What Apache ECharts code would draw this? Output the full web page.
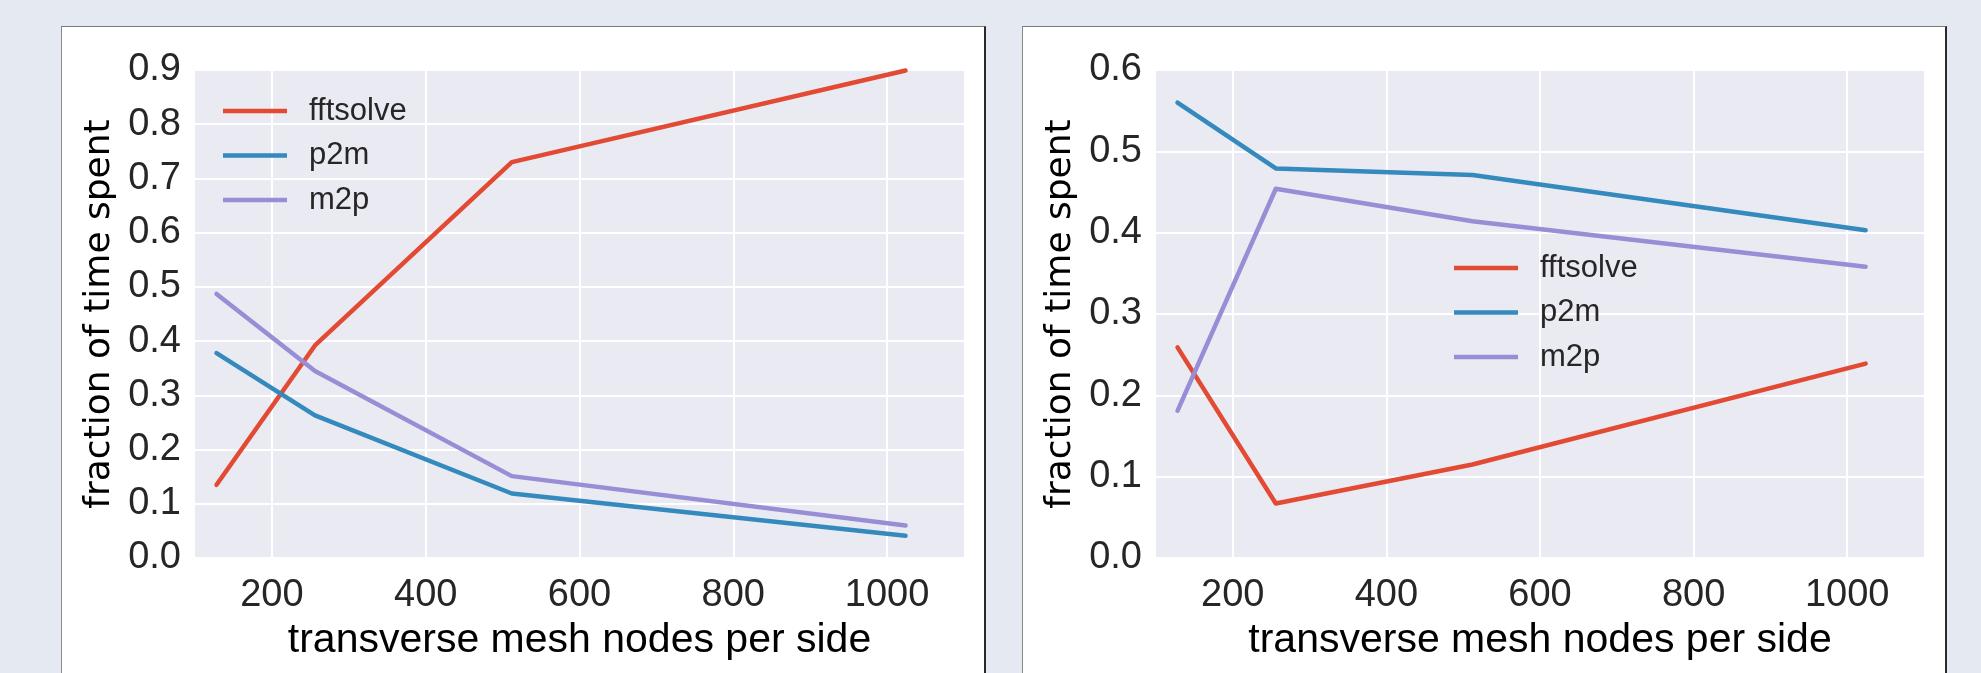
<!DOCTYPE html>
<html>
<head>
<meta charset="utf-8">
<title>fraction of time spent</title>
<script src="https://cdn.jsdelivr.net/npm/echarts@6/dist/echarts.min.js"></script>
<style>
  html, body { margin: 0; padding: 0; width: 1981px; height: 673px; overflow: hidden; background: #e5eaf2; }
  .panel { position: absolute; top: 26px; height: 700px; background: #ffffff;
           border-top: 1px solid #7a7a7a; border-left: 1px solid #8a8a8a; border-right: 2px solid #2a2a2a; box-sizing: border-box; }
  #p1 { left: 61px; width: 925px; }
  #p2 { left: 1022px; width: 925px; }
  #chart { position: absolute; left: 0; top: 0; width: 1981px; height: 673px; }
</style>
</head>
<body>
<div class="panel" id="p1"></div>
<div class="panel" id="p2"></div>
<div id="chart"></div>
<script>
// transverse mesh nodes per side
const nodes = [128, 256, 512, 1024];
const xTicks = [200, 400, 600, 800, 1000];

// left panel: fraction of time spent per stage
const leftFftsolve = [0.135, 0.392, 0.730, 0.899];
const leftP2m      = [0.378, 0.263, 0.119, 0.041];
const leftM2p      = [0.487, 0.345, 0.151, 0.060];

// right panel: fraction of time spent per stage
const rightFftsolve = [0.259, 0.067, 0.115, 0.239];
const rightP2m      = [0.560, 0.479, 0.471, 0.403];
const rightM2p      = [0.181, 0.454, 0.414, 0.358];

const seriesNames = ['fftsolve', 'p2m', 'm2p'];
const colors = ['#E24A33', '#348ABD', '#988ED5'];

const FONT = "'Liberation Sans', Arial, sans-serif";
const WIDE = "'DejaVu Sans', sans-serif";

function pairs(ys) { return nodes.map((x, i) => [x, ys[i]]); }

function xAxis(gridIndex) {
  return {
    type: 'value', gridIndex, min: 100, max: 1100,
    axisLine: { show: false },
    axisTick: { show: false, customValues: xTicks },
    axisLabel: { customValues: xTicks, color: '#262626', fontSize: 38, fontFamily: FONT, margin: 19,
                 formatter: v => String(v) },
    splitLine: { show: true, lineStyle: { color: '#ffffff', width: 2 } },
    name: 'transverse mesh nodes per side', nameLocation: 'middle', nameGap: 61,
    nameTextStyle: { color: '#000000', fontSize: 41, fontFamily: FONT }
  };
}

function yAxis(gridIndex, max) {
  return {
    type: 'value', gridIndex, min: 0, max, interval: 0.1,
    axisLine: { show: false }, axisTick: { show: false },
    axisLabel: { color: '#262626', fontSize: 38, fontFamily: FONT, margin: 14,
                 formatter: v => v.toFixed(1) },
    splitLine: { show: true, lineStyle: { color: '#ffffff', width: 2 } },
    name: 'fraction of time spent', nameLocation: 'middle', nameGap: 77,
    nameTextStyle: { color: '#000000', fontSize: 36, fontFamily: WIDE }
  };
}

function lineSeries(name, ys, idx, color) {
  return {
    type: 'line', name, data: pairs(ys), xAxisIndex: idx, yAxisIndex: idx,
    showSymbol: false, symbol: 'none', animation: false,
    lineStyle: { color, width: 4.5, cap: 'round', join: 'round' },
    itemStyle: { color }
  };
}

function legend(left, top) {
  return {
    orient: 'vertical', left, top, itemWidth: 64, itemHeight: 4.5, itemGap: 13.5,
    icon: 'rect',
    data: seriesNames,
    textStyle: { color: '#262626', fontSize: 31, fontFamily: FONT, padding: [0, 0, 0, 17] },
    selectedMode: false
  };
}

const chart = echarts.init(document.getElementById('chart'), null, { renderer: 'canvas' });
chart.setOption({
  backgroundColor: 'transparent',
  animation: false,
  color: colors,
  grid: [
    { left: 195, right: 1017, top: 70, bottom: 115, show: true, backgroundColor: '#eaeaf2', borderWidth: 0 },
    { left: 1156, right: 57, top: 70, bottom: 115, show: true, backgroundColor: '#eaeaf2', borderWidth: 0 }
  ],
  xAxis: [xAxis(0), xAxis(1)],
  yAxis: [yAxis(0, 0.9), yAxis(1, 0.6)],
  legend: [legend(218, 90.5), legend(1449, 247.5)],
  series: [
    lineSeries('fftsolve', leftFftsolve, 0, colors[0]),
    lineSeries('p2m', leftP2m, 0, colors[1]),
    lineSeries('m2p', leftM2p, 0, colors[2]),
    lineSeries('fftsolve', rightFftsolve, 1, colors[0]),
    lineSeries('p2m', rightP2m, 1, colors[1]),
    lineSeries('m2p', rightM2p, 1, colors[2])
  ]
});
</script>
</body>
</html>
